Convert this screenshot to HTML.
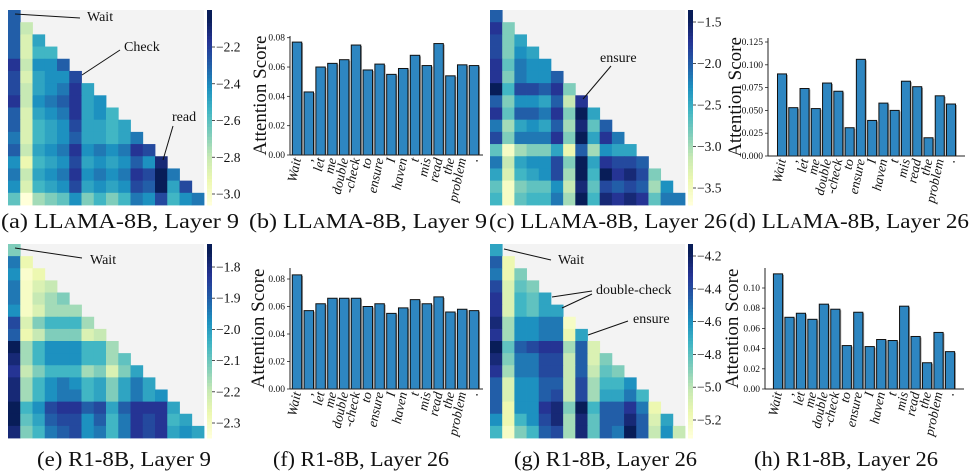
<!DOCTYPE html>
<html><head><meta charset="utf-8"><style>
body{margin:0;background:#fff;}
svg{display:block;font-family:"Liberation Serif",serif;}
</style></head><body>
<svg id="fig" width="980" height="475" viewBox="0 0 980 475"></svg>
<script>
// ---------- data ----------
const tokens = ["Wait", ",", "let", "me", "double", "-check", "to", "ensure", "I", "haven", "t", "mis", "read", "the", "problem", "."];
const barsB = [0.077,0.043,0.060,0.0625,0.065,0.075,0.058,0.062,0.055,0.059,0.068,0.061,0.076,0.054,0.0615,0.061];
const barsD = [0.090,0.053,0.074,0.052,0.080,0.071,0.031,0.106,0.039,0.058,0.050,0.082,0.076,0.020,0.066,0.057];
const barsF = [0.083,0.057,0.062,0.066,0.066,0.066,0.060,0.062,0.055,0.059,0.065,0.062,0.067,0.056,0.058,0.057];
const barsH = [0.114,0.071,0.075,0.069,0.084,0.079,0.043,0.076,0.042,0.049,0.048,0.082,0.052,0.026,0.056,0.037];
const ticksB = [0,0.02,0.04,0.06,0.08];
const ticksD = [0,0.025,0.05,0.075,0.1,0.125];
const ticksF = [0,0.02,0.04,0.06,0.08];
const ticksH = [0,0.02,0.04,0.06,0.08,0.10];
const tickLabB = ["0.00","0.02","0.04","0.06","0.08"];
const tickLabD = ["0.000","0.025","0.050","0.075","0.100","0.125"];
const tickLabF = ["0.00","0.02","0.04","0.06","0.08"];
const tickLabH = ["0.00","0.02","0.04","0.06","0.08","0.10"];
// heatmap intensity levels (0 light .. 8 dark)
const heatA = [[6],[6,2],[6,1.5,4.5],[6,1.5,4,4],[7,2,5,5,6],[6.5,1.5,4.5,5,5,6.5],[6.5,2,4.5,5,5.5,7,4.5],[7,2,5,5.5,6,7,4.5,5],[6,1.5,4.5,5,5.5,7,4.5,5,4],[6,1.5,4,4.5,5,6.5,4.5,4.5,4,4.5],[5.5,1.5,4,4.5,5,6,4.5,4.5,4,4.5,5.5],[6,2,4.5,5,5.5,7,5,5.5,5,5.5,7,6.5],[5,1,4,4.5,5,6.5,4.5,5,4.5,5,6,5,7.5],[5.5,2,4.5,5,5.5,7,5,5.5,5,5.5,7,6.5,8.5,5.5],[5,1.5,4,4.5,5,6.5,4.5,5,4.5,5,6.5,6,8,4.5,6.5],[3.5,0,2.5,3,3.5,5,3,4,3,4,5.5,5,6.5,4,5,5.5]];
const heatC = [[6],[7,3],[6.5,3,4.5],[6.5,3,5,4.5],[7,3.5,5.5,5,5],[7,3,5.5,5,5,6],[8,4,6.5,6.5,6,7,3],[6,3,5,5,4.5,6,2,7],[7,3.5,6,6,5.5,7,3,8.5,4.5],[5.5,2.5,4.5,5,4.5,6,2.5,7.5,3.5,6],[6.5,3,5.5,5.5,5.5,7,3,8.5,4.5,7,5.5],[3.5,0.5,2.5,3,3,4.5,1,6,2.5,5,4.5,4.5],[5.5,2,4.5,5,5,6.5,3,8,4.5,7,6.5,6.5,6],[4.5,1.5,4,4.5,5,6.5,2.5,8.5,4,8,7,7.5,6.5,3],[3.5,0.5,3,3.5,3.5,5,2,7.5,3.5,6.5,6,6.5,6,2.5,5],[4,0.5,3.5,4,4,5.5,2.5,8,4,7.5,7,7.5,7,3.5,5.5,5.5]];
const heatE = [[3],[5.5,1],[5,0.3,1],[5.5,0.5,1.5,2],[5.5,0.5,2,2.5,3],[5,0.5,1.5,2.5,2.5,2.5],[6.5,1.5,3,4,4,4,2.5],[6,1,2,3,3,3,1.5,2],[8,2.5,4,5,5,5,4,4,2.5],[7.5,2.5,4,5,5,5,4,4,2.5,3.5],[7,2,3,4,4,4,2.5,3,1.5,3,4.5],[7.5,2.5,4,5,5.5,5,4,4.5,3,4.5,5.5,4.5],[7.5,2.5,4,5,5.5,5.5,4,4.5,3,4.5,5.5,4.5,5],[8.5,4,5,6.5,7,7,6,6.5,4.5,6,7,7,7,4.5],[8.2,3.5,4.5,6,6.5,6.5,5,6,4,5.5,7,6.5,7,4,4.5],[7.5,3,4,5.5,6,6.5,5,5.5,4,5.5,7,6.5,7,4.5,5,4.5]];
const heatG = [[4.5],[6,1],[5.5,1,3],[6.5,1.5,3.5,3],[7,1.5,4,3.5,4.5],[7,1.5,4,3.5,4.5,4.5],[7.5,2.5,5,5,5.5,5.5,0.5],[7,2.5,5,5,5.5,5.5,1,4.5],[8.5,3.5,6,6.5,7,7,2.5,6,1.5],[7.5,3,5.5,5.5,6.5,6.5,2,6,1.5,3],[7,2.5,5.5,5.5,6.5,6.5,2,6,2,3.5,3],[6,1.5,5,5,6,6,2,6.5,2.5,4,4,5],[6,1.5,5,5,6,6.5,2,6.5,2.5,4.5,4.5,5.5,4],[6,1,5,5,7,7.5,3,8,4,6,6,7,5.5,1],[5,1,4,5,6.5,7.5,2.5,7.5,3.5,6,6,7.5,6,1.5,4.5],[4,0.5,3,4,6,6.5,2.5,7.5,3.5,6,5.5,8.5,6,2,5,2]];
const cbTicksA = [-2.2,-2.4,-2.6,-2.8,-3.0];
const cbTicksC = [-1.5,-2.0,-2.5,-3.0,-3.5];
const cbTicksE = [-1.8,-1.9,-2.0,-2.1,-2.2,-2.3];
const cbTicksG = [-4.2,-4.4,-4.6,-4.8,-5.0,-5.2];

// ---------- helpers ----------
const NS = "http://www.w3.org/2000/svg";
const svg = document.getElementById("fig");
function mk(tag, attrs, parent){ const e=document.createElementNS(NS,tag); for(const k in attrs) e.setAttribute(k,attrs[k]); (parent||svg).appendChild(e); return e; }
const pal = ["#ffffd9","#edf8b1","#c7e9b4","#7fcdbb","#41b6c4","#1d91c0","#225ea8","#253494","#081d58"];
function hex(h){return [1,3,5].map(i=>parseInt(h.substr(i,2),16));}
function cmap(v){ v=Math.max(0,Math.min(8,v)); const i=Math.min(7,Math.floor(v)), f=v-i; const a=hex(pal[i]), b=hex(pal[i+1]); return "rgb("+a.map((c,k)=>Math.round(c+(b[k]-c)*f)).join(",")+")"; }

function heatmap(id, data, x0, y0, w, h, cbX, cbTicks, t0y, t1y){
  const g = mk("g",{});
  
  
  mk("rect",{x:x0,y:y0,width:w,height:h,fill:"#f3f3f3"},g);
  const n=data.length, cw=w/n, ch=h/n;
  data.forEach((row,r)=>row.forEach((v,c)=>{
    const cell = mk("rect",{x:(x0+c*cw).toFixed(2),y:(y0+r*ch).toFixed(2),width:(cw+0.4).toFixed(2),height:(ch+0.4).toFixed(2),fill:cmap(v)},g);
    
    
  }));
  const cb = mk("g",{},g);
  
  
  const steps=60;
  for(let i=0;i<steps;i++) mk("rect",{x:cbX,y:(y0+i*h/steps).toFixed(2),width:5,height:(h/steps+0.5).toFixed(2),fill:cmap(8.3-8.3*i/(steps-1))},cb);
  const tv0=cbTicks[0], tv1=cbTicks[cbTicks.length-1];
  cbTicks.forEach(t=>{
    const y=t0y+(t-tv0)/(tv1-tv0)*(t1y-t0y);
    mk("line",{x1:cbX+5,x2:cbX+8,y1:y,y2:y,stroke:"#222","stroke-width":0.8},cb);
    const tx=mk("text",{x:cbX+9,y:y+4.5,"font-size":13.5,fill:"#111"},cb);
    tx.textContent="\u2212"+Math.abs(t).toFixed(1);
    
    
  });
}

function barchart(id, vals, ticks, tickLabs, axX, y0, yTopVal, yTopPix, axTop, axRight, b0, b1, ylabX){
  const g=mk("g",{});
  
  
  const sy=v=>y0-(v/yTopVal)*(y0-yTopPix);
  const n=vals.length, step=(b1-b0)/(n-1), bw=step*0.8;
  vals.forEach((v,i)=>{
    const cx=b0+i*step;
    mk("rect",{x:cx-bw/2+1.3,y:sy(v)+1,width:bw,height:y0-sy(v)-1,fill:"#9a9a9a"},g);
    const b=mk("rect",{x:cx-bw/2,y:sy(v),width:bw,height:y0-sy(v),fill:"#2e86c1",stroke:"#111","stroke-width":1},g);
    
    
    const t=mk("text",{transform:`translate(${cx+4},${y0+4}) rotate(-78)`,"text-anchor":"end","font-size":13.5,"font-style":"italic",fill:"#111"},g);
    t.textContent=tokens[i];
    
    
  });
  mk("line",{x1:axX,x2:axX,y1:axTop,y2:y0,stroke:"#222","stroke-width":1},g);
  mk("line",{x1:axX,x2:axRight,y1:y0,y2:y0,stroke:"#222","stroke-width":1},g);
  ticks.forEach((t,i)=>{
    const y=sy(t);
    mk("line",{x1:axX-3,x2:axX,y1:y,y2:y,stroke:"#222","stroke-width":0.8},g);
    const tx=mk("text",{x:axX-5,y:y+3,"text-anchor":"end","font-size":9.5,fill:"#111"},g);
    tx.textContent=tickLabs[i];
    
    
  });
  const yl=mk("text",{transform:`translate(${ylabX},${(axTop+y0)/2}) rotate(-90)`,"text-anchor":"middle","font-size":19,fill:"#111"},g);
  yl.textContent="Attention Score";
  
  
}

function annot(name, label, tx, ty, lines){
  const g=mk("g",{});
  
  
  lines.forEach(l=>mk("line",{x1:l[0],y1:l[1],x2:l[2],y2:l[3],stroke:"#111","stroke-width":1},g));
  const t=mk("text",{x:tx,y:ty,"font-size":14,fill:"#111"},g);
  t.textContent=label;
}

function caption(name, x, y, len, html){
  const t=mk("text",{x:x,y:y,"font-size":21,fill:"#111",textLength:len,lengthAdjust:"spacingAndGlyphs"});
  t.innerHTML=html;
  
  
}

// ---------- draw ----------
heatmap("heatmap-a", heatA, 8, 10, 196, 195, 207, cbTicksA, 47, 194);
barchart("bar-chart-b", barsB, ticksB, tickLabB, 290, 155, 0.08, 37.7, 36, 483, 297, 474, 266);
heatmap("heatmap-c", heatC, 490, 10, 195, 195, 688, cbTicksC, 22, 188);
barchart("bar-chart-d", barsD, ticksD, tickLabD, 768, 156, 0.125, 42, 38, 965, 782, 951, 741);
heatmap("heatmap-e", heatE, 8, 244, 196, 194, 207, cbTicksE, 267, 423);
barchart("bar-chart-f", barsF, ticksF, tickLabF, 290, 389, 0.08, 279, 268, 483, 297, 474, 264);
heatmap("heatmap-g", heatG, 490, 244, 195, 194, 688, cbTicksG, 256, 420);
barchart("bar-chart-h", barsH, ticksH, tickLabH, 765, 389, 0.10, 288, 268, 964, 778, 950, 738);

annot("annotation-wait-a","Wait",87,21,[[15,14,80,18]]);
annot("annotation-check-a","Check",124,51,[[82,75,120,50]]);
annot("annotation-read-a","read",172,121,[[163,160,173,126]]);
annot("annotation-ensure-c","ensure",600,62,[[583,99,611,66]]);
annot("annotation-wait-e","Wait",90,264,[[15,248,82,258]]);
annot("annotation-wait-g","Wait",558,264,[[504,249,551,260]]);
annot("annotation-double-check-g","double-check",596,294,[[552,297,592,291],[562,308,592,294]]);
annot("annotation-ensure-g","ensure",633,323,[[588,335,628,321]]);

const LL='LL<tspan font-size="16">A</tspan>MA-8B';
caption("caption-a",1,228,238,'(a) '+LL+', Layer 9');
caption("caption-b",249,228,238,'(b) '+LL+', Layer 9');
caption("caption-c",489,228,238,'(c) '+LL+', Layer 26');
caption("caption-d",729,228,240,'(d) '+LL+', Layer 26');
caption("caption-e",37,466,174,'(e) R1-8B, Layer 9');
caption("caption-f",273,466,176,'(f) R1-8B, Layer 26');
caption("caption-g",514,466,183,'(g) R1-8B, Layer 26');
caption("caption-h",754,466,184,'(h) R1-8B, Layer 26');
</script>
</body></html>
